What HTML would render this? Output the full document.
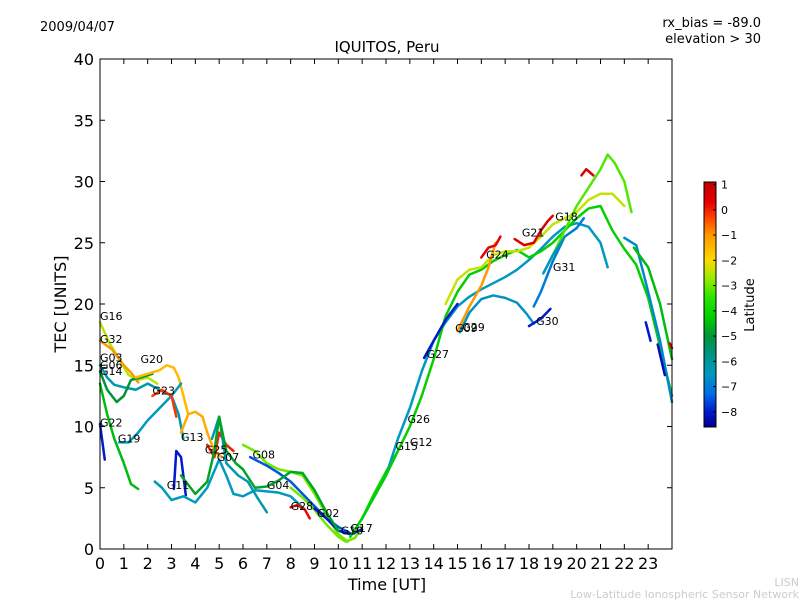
<!DOCTYPE html>
<html><head><meta charset="utf-8"><style>
body{margin:0;background:#fff;}
svg{display:block;font-family:"DejaVu Sans","Liberation Sans",sans-serif;}
</style></head><body>
<svg id="c" width="800" height="600"></svg>
<script>
const xTicks=[0,1,2,3,4,5,6,7,8,9,10,11,12,13,14,15,16,17,18,19,20,21,22,23];
const yTicks=[0,5,10,15,20,25,30,35,40];
const cbTicks=[1,0,-1,-2,-3,-4,-5,-6,-7,-8];
const seriesNames=["G16","G32","G03","G14","G20","G22","G22b","G19","G23","G13","G11","low-teal","G25","G07","G08","G04","G28","G02","G10","G17","riseA","riseB","riseC","peakD","G29","G24","G21","G27","G09","G30","G31","teal2","eve-teal","eve-green","eve-blue","eve-blue2","eve-red","early-peak","mid-green"];
const seriesLat=[-2.5,-1,-6.3,-5,-1.5,-4.5,-8,-6.5,-0.2,-1.3,-8,-6.5,0,-6.3,-3,-7.5,0.2,-3,-8,-4,-6.5,-4.2,-2.4,-3.2,-1,0.3,0.5,-8,-6.6,-8,-7,-6.3,-6.8,-4.5,-8,-8.2,0.5,0.5,-4.8];
const seriesPts=[
[[0,18.5],[0.4,16.8],[0.8,15.5],[1.2,14.2],[1.6,13.8],[2,14],[2.4,13.5]],
[[0,17],[0.5,16.3],[1,15],[1.3,14.4],[1.6,13.6]],
[[0,15],[0.3,14],[0.6,13.4],[1,13.2],[1.5,13],[2,13.5],[2.5,13],[3,12.5],[3.3,11],[3.5,9]],
[[0,14.5],[0.3,13],[0.7,12],[1,12.5],[1.3,13.8],[1.7,14],[2.2,14.3]],
[[1.5,14],[2,14.3],[2.5,14.6],[2.8,15],[3.1,14.8],[3.3,14],[3.5,12.5],[3.7,11]],
[[0,13.5],[0.3,11],[0.6,9],[1,7],[1.3,5.3],[1.6,4.9]],
[[0,10.2],[0.2,7.3]],
[[0.8,8.7],[1.2,8.7],[1.6,9.5],[2,10.5],[2.5,11.5],[3,12.5],[3.4,13.5]],
[[2.2,12.5],[2.6,13],[3,12.5],[3.2,10.8]],
[[3.4,9.5],[3.7,11],[4,11.2],[4.3,10.8],[4.5,9.5],[4.8,8],[5.1,7.5]],
[[3.1,4.9],[3.2,8],[3.4,7.5],[3.6,4.4]],
[[2.3,5.5],[2.6,5],[3,4],[3.5,4.3],[4,3.8],[4.5,5],[5,7.3],[5.3,6],[5.6,4.5],[6,4.3],[6.5,4.8],[7,4.7],[7.5,4.6],[8,4.3],[8.6,3.2]],
[[4.5,8.5],[4.8,7.5],[5,9.5],[5.3,8.5],[5.6,8]],
[[4.7,9],[5,10.8],[5.3,7],[5.8,6],[6.2,5.5],[6.6,4.2],[7,3]],
[[6,8.5],[6.5,8],[7,7],[7.5,6.5],[8,6.3],[8.5,6],[9,4.5],[9.5,2.8],[10,1.2],[10.4,0.6]],
[[6.3,7.5],[7,6.8],[7.5,6.2],[8,5.5],[8.5,4.5],[9,3.5],[9.5,2.5],[10,1.8],[10.5,1.3]],
[[8,3.4],[8.3,3.6],[8.6,3.2],[8.8,2.5]],
[[8,5],[8.5,4.2],[9,3.2],[9.5,2],[10,1],[10.3,0.6],[10.7,0.9],[11,1.8]],
[[9,3.3],[9.5,2.5],[10,1.5],[10.5,1.2],[11,1.6]],
[[10.5,1],[11,2.5],[11.5,4.5],[12,6.3],[12.5,8]],
[[11,2.5],[12,6],[12.5,9],[13,11.5],[13.5,14.5],[14,17],[14.5,18.5],[15,19.8],[15.5,20.6],[16,21.2],[16.5,21.7],[17,22.2],[17.5,22.8],[18,23.6],[18.5,24.5],[19,25.5],[19.5,26.3],[20,26.6],[20.5,26.3],[21,25],[21.3,23]],
[[10.5,1],[11,2.5],[12,6],[13,10],[13.5,12.5],[14,15.5],[14.5,19],[15,21],[15.5,22.4],[16,22.8],[16.5,23.5],[17,24],[17.5,24.4],[18,23.8],[18.5,24.3],[19,25],[19.5,26],[20,27],[20.5,27.8],[21,28],[21.5,26],[22,24.5],[22.5,23.2],[23,20.5],[23.5,16.5],[24,12.5]],
[[14.5,20],[15,22],[15.5,22.8],[16,23],[16.5,24],[17,24.3],[17.5,24.3],[18,24.6],[18.5,25.5],[19,26.5],[19.5,27],[20,27.5],[20.5,28.5],[21,29],[21.5,29],[22,28]],
[[19,24],[19.5,26],[20,28],[20.5,29.5],[21,31],[21.3,32.2],[21.6,31.5],[22,30],[22.3,27.5]],
[[15,17.8],[15.5,19.8],[16,21.5],[16.3,23],[16.6,25]],
[[16,23.8],[16.3,24.6],[16.6,24.8],[16.8,25.5]],
[[17.4,25.3],[17.8,24.8],[18.2,25],[18.5,26],[18.8,26.8],[19,27.2]],
[[13.6,15.6],[14,17],[14.5,18.7],[15,20]],
[[15.1,17.7],[15.5,19.3],[16,20.4],[16.5,20.7],[17,20.5],[17.5,20.1],[17.9,19.2],[18.2,18.4]],
[[18,18.2],[18.5,18.8],[18.9,19.6]],
[[18.2,19.8],[18.5,21],[19,23.5],[19.5,25.5],[20,26.2],[20.3,27]],
[[18.6,22.5],[19,24],[19.5,25.5]],
[[22,25.4],[22.5,24.8],[23,21],[23.5,17],[24,12]],
[[22.4,24.6],[23,23],[23.5,20],[24,15.5]],
[[22.9,18.5],[23.1,17]],
[[23.4,16.7],[23.7,14.2]],
[[23.9,16.8],[24,16.4]],
[[20.2,30.5],[20.4,31],[20.7,30.5]],
[[3.4,6],[4,4.5],[4.5,5.5],[4.8,8],[5,10.8],[5.3,8],[5.7,7],[6,6.5],[6.5,5],[7,5.1],[7.5,5.6],[8,6.3],[8.5,6.2],[9,4.8],[9.5,3],[10,1.5]]
];
const labelNames=["G16","G32","G03","G06","G14","G20","G22","G19","G23","G13","G11","G25","G07","G08","G04","G28","G02","G10","G17","G15","G12","G26","G27","G09","G29","G24","G21","G18","G31","G30"];
const labelPos=[[0,18.7],[0,16.8],[0,15.3],[0,14.7],[0,14.2],[1.7,15.2],[0,10],[0.75,8.7],[2.2,12.6],[3.4,8.8],[2.8,4.9],[4.4,7.8],[4.9,7.2],[6.4,7.4],[7,4.9],[8,3.2],[9.1,2.6],[10.1,1.2],[10.5,1.4],[12.4,8.1],[13,8.4],[12.9,10.3],[13.7,15.6],[14.9,17.7],[15.2,17.8],[16.2,23.7],[17.7,25.5],[19.1,26.8],[19,22.7],[18.3,18.3]];
const NS="http://www.w3.org/2000/svg";
const svg=document.getElementById('c');
const X0=100,X1=672,Y0=549,Y1=59;
const sx=h=>X0+(X1-X0)*h/24, sy=v=>Y0-(Y0-Y1)*v/40;
function mk(t,a,p){const e=document.createElementNS(NS,t);for(const k in a)e.setAttribute(k,a[k]);(p||svg).appendChild(e);return e;}
const LMIN=-8.6,LMAX=1.1;
const CS=[[-8.6,[0,0,0.55]],[-8,[0,0.1,0.8]],[-7.3,[0,0.42,0.9]],[-6.5,[0,0.6,0.75]],[-5.7,[0,0.58,0.5]],[-5,[0,0.58,0.22]],[-4.3,[0,0.8,0]],[-3.5,[0.15,0.9,0]],[-2.7,[0.6,0.92,0]],[-2,[1,0.85,0]],[-1,[1,0.6,0]],[-0.3,[1,0.25,0]],[0.3,[0.9,0,0]],[1.1,[0.75,0,0]]];
function col(l){l=Math.max(LMIN,Math.min(LMAX,l));for(let i=0;i<CS.length-1;i++){const a=CS[i],b=CS[i+1];if(l<=b[0]){const t=(l-a[0])/(b[0]-a[0]);const c=a[1].map((v,k)=>Math.round(255*(v+(b[1][k]-v)*t)));return `rgb(${c[0]},${c[1]},${c[2]})`;}}return 'rgb(191,0,0)';}
const fr=mk('rect',{x:X0,y:Y1,width:X1-X0,height:Y0-Y1,fill:'#fff',stroke:'#000','stroke-width':1});

seriesPts.forEach((pts,i)=>{
 const p=mk('polyline',{points:pts.map(q=>sx(q[0])+','+sy(q[1])).join(' '),fill:'none',stroke:col(seriesLat[i]),'stroke-width':2.5,'stroke-linejoin':'round','stroke-linecap':'round'});
 
 
});
labelNames.forEach((n,i)=>{
 const t=mk('text',{x:sx(labelPos[i][0]),y:sy(labelPos[i][1]),'font-size':11,fill:'#000'});t.textContent=n;
 
 
});
mk('rect',{x:X0,y:Y1,width:X1-X0,height:Y0-Y1,fill:'none',stroke:'#000','stroke-width':1});
xTicks.forEach(h=>{
 const x=sx(h);
 mk('line',{x1:x,y1:Y0,x2:x,y2:Y0-5,stroke:'#000'});mk('line',{x1:x,y1:Y1,x2:x,y2:Y1+5,stroke:'#000'});
 const t=mk('text',{x:x,y:Y0+20,'font-size':16,'text-anchor':'middle'});t.textContent=h;
 
 
});
yTicks.forEach(v=>{
 const y=sy(v);
 mk('line',{x1:X0,y1:y,x2:X0+5,y2:y,stroke:'#000'});mk('line',{x1:X1,y1:y,x2:X1-5,y2:y,stroke:'#000'});
 const t=mk('text',{x:X0-6,y:y+6,'font-size':16,'text-anchor':'end'});t.textContent=v;
 
 
});
const CB={x:704,y:182,w:12,h:245};
const defs=mk('defs',{});const g=mk('linearGradient',{id:'jg',x1:0,y1:1,x2:0,y2:0},defs);
CS.forEach(s=>mk('stop',{offset:(s[0]-LMIN)/(LMAX-LMIN),'stop-color':col(s[0])},g));
const cb=mk('rect',{x:CB.x,y:CB.y,width:CB.w,height:CB.h,fill:'url(#jg)',stroke:'#000'});

cbTicks.forEach(v=>{
 const y=CB.y+CB.h*(LMAX-v)/(LMAX-LMIN);
 mk('line',{x1:CB.x+CB.w-3,y1:y,x2:CB.x+CB.w,y2:y,stroke:'#000'});
 const t=mk('text',{x:CB.x+CB.w+5,y:y+4,'font-size':11});t.textContent=v===0?'0':(v<0?'\u2212'+(-v):v);
 
 
});
</script>
<svg width="800" height="600" style="position:absolute;left:0;top:0">
<text x="40" y="31" font-size="13">2009/04/07</text>
<text x="761" y="27" font-size="13" text-anchor="end">rx_bias = -89.0</text>
<text x="761" y="43" font-size="13" text-anchor="end">elevation &gt; 30</text>
<text x="387" y="52" font-size="15" text-anchor="middle">IQUITOS, Peru</text>
<text x="387" y="590" font-size="16" text-anchor="middle">Time [UT]</text>
<text transform="translate(66,304) rotate(-90)" font-size="16" text-anchor="middle">TEC [UNITS]</text>
<text transform="translate(754,305) rotate(-90)" font-size="13" text-anchor="middle">Latitude</text>
<text x="799" y="586" font-size="11" fill="#ccc" text-anchor="end">LISN</text>
<text x="799" y="598" font-size="11" fill="#ccc" text-anchor="end">Low-Latitude Ionospheric Sensor Network</text>
</svg>
</body></html>
